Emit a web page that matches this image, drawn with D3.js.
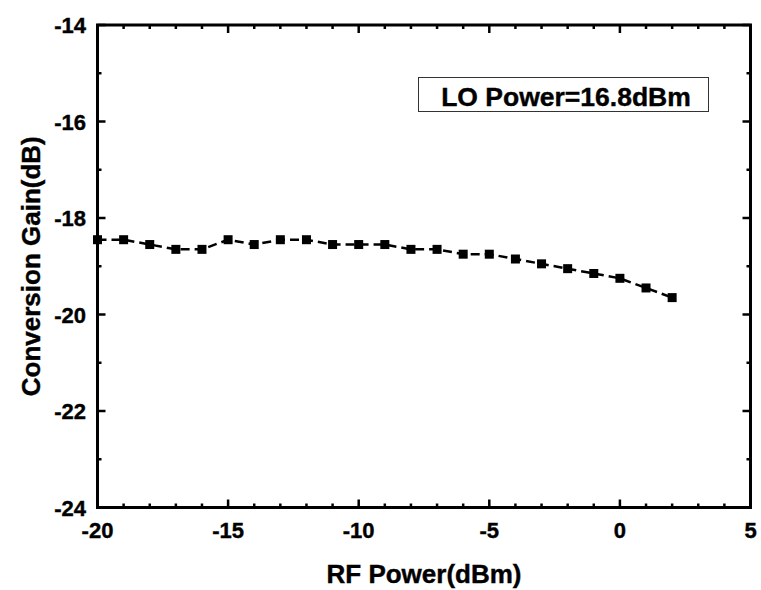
<!DOCTYPE html>
<html>
<head>
<meta charset="utf-8">
<script src="https://cdn.jsdelivr.net/npm/d3@7"></script>
<style>
  body { margin: 0; background: #fff; }
  text { font-family: "Liberation Sans", Arial, sans-serif; font-weight: bold; stroke: #000; stroke-width: 0.4px; }
</style>
</head>
<body>
<svg id="chart" width="761" height="590"></svg>
<script>
const rfPower = [-20, -19, -18, -17, -16, -15, -14, -13, -12, -11, -10, -9,
                 -8, -7, -6, -5, -4, -3, -2, -1, 0, 1, 2];
const gain = [-18.45, -18.45, -18.55, -18.65, -18.65, -18.45, -18.55, -18.45, -18.45, -18.55, -18.55, -18.55,
              -18.65, -18.65, -18.75, -18.75, -18.85, -18.95, -19.05, -19.15, -19.25, -19.45, -19.65];
const xTicks = [-20, -15, -10, -5, 0, 5];
const yTicks = [-14, -16, -18, -20, -22, -24];
const legendText = "LO Power=16.8dBm";

const m = { left: 97.5, right: 750.5, top: 25, bottom: 507.5 };

const svg = d3.select("#chart");

const x = d3.scaleLinear().domain([-20, 5]).range([m.left, m.right]);
const y = d3.scaleLinear().domain([-24, -14]).range([m.bottom, m.top]);

// minor + major ticks, pointing inward, on all four sides
const xMinor = d3.range(-20, 5.01, 1);
const yMinor = d3.range(-24, -13.99, 1);

const g = svg.append("g").attr("stroke", "#000").attr("stroke-width", 2.5);

xMinor.forEach(v => {
  const len = xTicks.includes(v) ? 8 : 4;
  g.append("line").attr("x1", x(v)).attr("x2", x(v))
    .attr("y1", m.bottom).attr("y2", m.bottom - len);
  g.append("line").attr("x1", x(v)).attr("x2", x(v))
    .attr("y1", m.top).attr("y2", m.top + len);
});
yMinor.forEach(v => {
  const len = yTicks.includes(v) ? 8 : 4;
  g.append("line").attr("y1", y(v)).attr("y2", y(v))
    .attr("x1", m.left).attr("x2", m.left + len);
  g.append("line").attr("y1", y(v)).attr("y2", y(v))
    .attr("x1", m.right).attr("x2", m.right - len);
});

// frame
svg.append("rect")
  .attr("x", m.left).attr("y", m.top)
  .attr("width", m.right - m.left).attr("height", m.bottom - m.top)
  .attr("fill", "none").attr("stroke", "#000").attr("stroke-width", 3);

// tick labels
svg.selectAll(".xl").data(xTicks).enter().append("text")
  .attr("x", d => x(d)).attr("y", 538)
  .attr("text-anchor", "middle").attr("font-size", 22)
  .text(d => d);

svg.selectAll(".yl").data(yTicks).enter().append("text")
  .attr("x", 86).attr("y", d => y(d) + 8)
  .attr("text-anchor", "end").attr("font-size", 22)
  .text(d => d);

// axis titles
svg.append("text")
  .attr("x", (m.left + m.right) / 2).attr("y", 583)
  .attr("text-anchor", "middle").attr("font-size", 26)
  .text("RF Power(dBm)");

svg.append("text")
  .attr("transform", `translate(40, ${(m.top + m.bottom) / 2}) rotate(-90)`)
  .attr("text-anchor", "middle").attr("font-size", 26)
  .text("Conversion Gain(dB)");

// data
const pts = rfPower.map((v, i) => [v, gain[i]]);
const line = d3.line().x(d => x(d[0])).y(d => y(d[1]));

svg.append("path")
  .attr("d", line(pts))
  .attr("fill", "none").attr("stroke", "#000")
  .attr("stroke-width", 2.5).attr("stroke-dasharray", "9,5");

svg.selectAll(".pt").data(pts).enter().append("rect")
  .attr("x", d => x(d[0]) - 4.5).attr("y", d => y(d[1]) - 4.5)
  .attr("width", 9).attr("height", 9).attr("fill", "#000");

// legend box
svg.append("rect")
  .attr("x", 418.5).attr("y", 77.5).attr("width", 290).attr("height", 34)
  .attr("fill", "none").attr("stroke", "#333").attr("stroke-width", 1);
svg.append("text")
  .attr("x", 566).attr("y", 105.5)
  .attr("text-anchor", "middle").attr("font-size", 26.5)
  .text(legendText);
</script>
</body>
</html>
